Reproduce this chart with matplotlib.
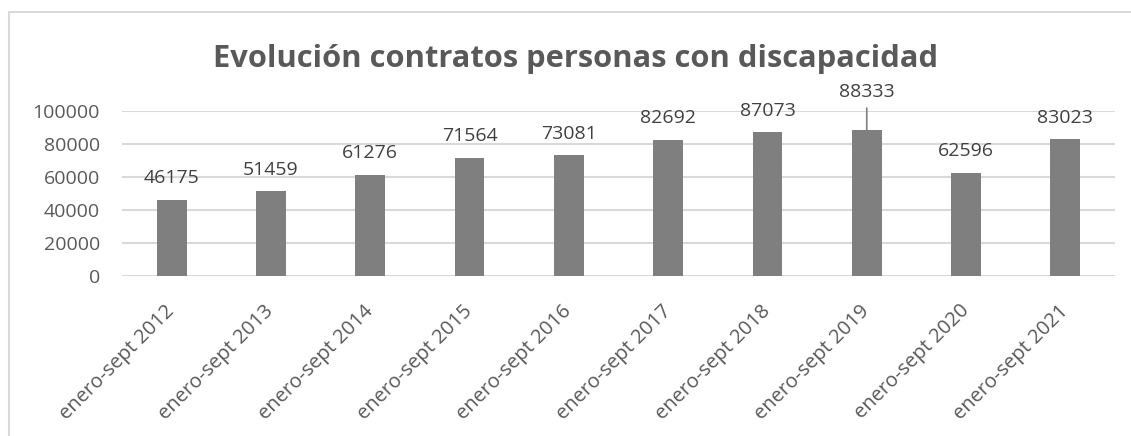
import matplotlib
matplotlib.use("Agg")
import matplotlib.pyplot as plt
from matplotlib.patches import Rectangle

categories = ["enero-sept 2012", "enero-sept 2013", "enero-sept 2014", "enero-sept 2015",
              "enero-sept 2016", "enero-sept 2017", "enero-sept 2018", "enero-sept 2019",
              "enero-sept 2020", "enero-sept 2021"]
values = [46175, 51459, 61276, 71564, 73081, 82692, 87073, 88333, 62596, 83023]
yticks = [0, 20000, 40000, 60000, 80000, 100000]
title = "Evolución contratos personas con discapacidad"

plt.rcParams['font.family'] = ['Open Sans', 'DejaVu Sans']

W, H = 1131, 436
fig = plt.figure(figsize=(W / 100, H / 100), dpi=100)
ax = fig.add_axes([122 / W, 1 - 276 / H, (1115 - 122) / W, (276 - 111) / H])

FS = 14
x = list(range(len(categories)))
ax.bar(x, values, width=0.30, color="#7f7f7f", zorder=3)
ax.set_xlim(-0.5, len(categories) - 0.5)
ax.set_ylim(0, 100000)
ax.set_yticks(yticks)
ax.set_yticklabels([str(v) for v in yticks])
ax.set_xticks(x)
ax.set_xticklabels(categories, rotation=45, ha="right", va="center", rotation_mode="anchor")
ax.tick_params(axis="y", length=0, pad=16, labelsize=FS, labelcolor="#595959")
ax.tick_params(axis="x", length=0, pad=23, labelsize=14.5, labelcolor="#595959")
ax.grid(axis="y", color="#d9d9d9", linewidth=1.5, zorder=0)
for s in ax.spines.values():
    s.set_visible(False)

for i, v in enumerate(values):
    if v == max(values):
        ax.annotate(str(v), xy=(i, v), xytext=(0, 21), textcoords="offset points",
                    ha="center", va="bottom", fontsize=FS, color="#404040",
                    annotation_clip=False,
                    arrowprops=dict(arrowstyle="-", color="#7f7f7f", lw=1.2,
                                    shrinkA=3, shrinkB=0))
    else:
        ax.annotate(str(v), xy=(i, v), xytext=(0, 9), textcoords="offset points",
                    ha="center", va="bottom", fontsize=FS, color="#404040",
                    annotation_clip=False)

fig.text(576 / W, 1 - 59 / H, title, ha="center", va="center", fontsize=22.2,
         fontweight="bold", color="#595959")

fig.add_artist(Rectangle((9 / W, -0.1), 1.2, 1 - 12 / H + 0.1, transform=fig.transFigure,
                         fill=False, edgecolor="#d9d9d9", linewidth=1.5))

fig.savefig("out.png", dpi=100, facecolor="white")
